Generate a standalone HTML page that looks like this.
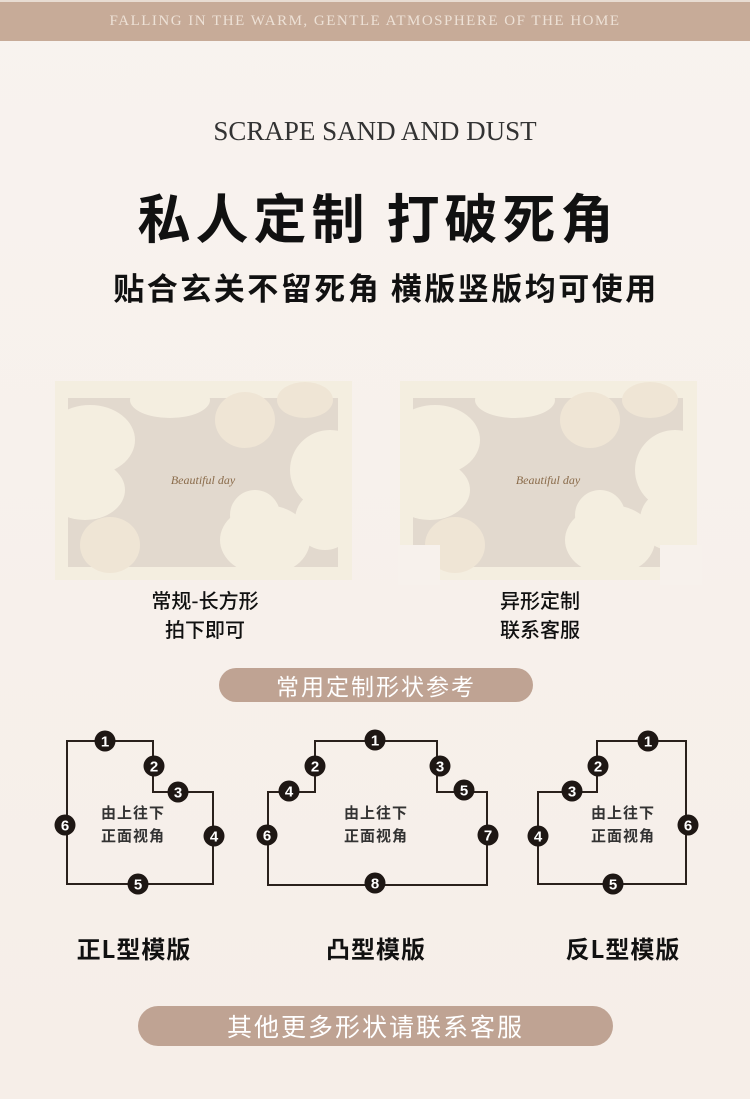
<!DOCTYPE html>
<html><head><meta charset="utf-8"><style>
body{margin:0;width:750px;height:1099px;overflow:hidden;background:linear-gradient(#f8f3ef,#f6eee8);font-family:"Liberation Sans","Noto Sans CJK SC",sans-serif;position:relative}
.a{position:absolute;white-space:nowrap}
.c{transform:translateX(-50%)}
</style></head><body>
<div class="a" style="left:0;top:0;width:750px;height:41px;background:#c7ab98;border-top:2px solid #e8dcd2;box-sizing:border-box"></div>
<div class="a c" style="left:365px;top:13px;color:#ede1d6;font-size:15px;letter-spacing:1.5px;font-family:'Liberation Serif',serif">FALLING IN THE WARM, GENTLE ATMOSPHERE OF THE HOME</div>
<div class="a c" style="left:375px;top:116px;color:#333;font-size:27px;font-family:'Liberation Serif',serif;letter-spacing:0px">SCRAPE SAND AND DUST</div>
<div class="a c" style="left:378px;top:178px;color:#111;font-size:53px;font-weight:bold;letter-spacing:5px;font-family:'Noto Sans CJK SC',sans-serif">私人定制 打破死角</div>
<div class="a c" style="left:386px;top:264px;color:#111;font-size:31px;font-weight:bold;letter-spacing:2.5px;font-family:'Noto Sans CJK SC',sans-serif">贴合玄关不留死角 横版竖版均可使用</div>

<svg class="a" style="left:0;top:0" width="750" height="1099">
<defs>
<clipPath id="cp"><rect x="0" y="0" width="297" height="200"/></clipPath>
<g id="fl" clip-path="url(#cp)">
<rect x="13" y="18" width="270" height="169" fill="#e2d9ce"/>
<g fill="#f4eee0">
<ellipse cx="35" cy="60" rx="45" ry="35"/><ellipse cx="30" cy="110" rx="40" ry="30"/>
<ellipse cx="275" cy="90" rx="40" ry="40"/><ellipse cx="270" cy="140" rx="30" ry="30"/>
<ellipse cx="210" cy="160" rx="45" ry="35"/><ellipse cx="200" cy="135" rx="25" ry="25"/>
<ellipse cx="115" cy="20" rx="40" ry="18"/>
</g>
<g fill="#efe5d5"><ellipse cx="55" cy="165" rx="30" ry="28"/><ellipse cx="190" cy="40" rx="30" ry="28"/><ellipse cx="250" cy="20" rx="28" ry="18"/></g>
<text x="148" y="104" text-anchor="middle" font-family="Liberation Serif,serif" font-style="italic" font-size="12" fill="#8a6b4a">Beautiful day</text>
</g>
</defs>
<rect x="55" y="381" width="297" height="199" fill="#f4eee0"/>
<g transform="translate(55,380)"><use href="#fl"/></g>
<rect x="400" y="381" width="297" height="164" fill="#f4eee0"/>
<rect x="440" y="540" width="220" height="40" fill="#f4eee0"/>
<g transform="translate(400,380)"><use href="#fl"/></g>
<rect x="398" y="545" width="42" height="40" fill="#f7f1ec"/>
<rect x="660" y="545" width="42" height="40" fill="#f7f1ec"/>

<g fill="none" stroke="#2a211c" stroke-width="2">
<path d="M67 741H153V792H213V884H67Z"/>
<path d="M268 792H315V741H437V792H487V885H268Z"/>
<path d="M538 792H597V741H686V884H538Z"/>
</g>
<g font-family="Liberation Sans,sans-serif" font-weight="bold" font-size="15" text-anchor="middle">
<g fill="#1e1714">
<circle cx="105" cy="741" r="10.5"/><circle cx="154" cy="766" r="10.5"/><circle cx="178" cy="792" r="10.5"/><circle cx="214" cy="836" r="10.5"/><circle cx="138" cy="884" r="10.5"/><circle cx="65" cy="825" r="10.5"/>
<circle cx="375" cy="740" r="10.5"/><circle cx="315" cy="766" r="10.5"/><circle cx="440" cy="766" r="10.5"/><circle cx="289" cy="791" r="10.5"/><circle cx="464" cy="790" r="10.5"/><circle cx="267" cy="835" r="10.5"/><circle cx="488" cy="835" r="10.5"/><circle cx="375" cy="883" r="10.5"/>
<circle cx="648" cy="741" r="10.5"/><circle cx="598" cy="766" r="10.5"/><circle cx="572" cy="791" r="10.5"/><circle cx="538" cy="836" r="10.5"/><circle cx="613" cy="884" r="10.5"/><circle cx="688" cy="825" r="10.5"/>
</g>
<g fill="#fff">
<text x="105" y="746.5">1</text><text x="154" y="771.5">2</text><text x="178" y="797.5">3</text><text x="214" y="841.5">4</text><text x="138" y="889.5">5</text><text x="65" y="830.5">6</text>
<text x="375" y="745.5">1</text><text x="315" y="771.5">2</text><text x="440" y="771.5">3</text><text x="289" y="796.5">4</text><text x="464" y="795.5">5</text><text x="267" y="840.5">6</text><text x="488" y="840.5">7</text><text x="375" y="888.5">8</text>
<text x="648" y="746.5">1</text><text x="598" y="771.5">2</text><text x="572" y="796.5">3</text><text x="538" y="841.5">4</text><text x="613" y="889.5">5</text><text x="688" y="830.5">6</text>
</g>
</g>
<g font-family="Noto Sans CJK SC,sans-serif" font-weight="bold" font-size="15" fill="#333" text-anchor="middle" letter-spacing="1">
<text x="133" y="818">由上往下</text><text x="133" y="841">正面视角</text>
<text x="376" y="818">由上往下</text><text x="376" y="841">正面视角</text>
<text x="623" y="818">由上往下</text><text x="623" y="841">正面视角</text>
</g>
</svg>

<div class="a c" style="left:205px;top:585px;font-size:20px;font-weight:500;color:#111;text-align:center;line-height:29px;font-family:'Noto Sans CJK SC',sans-serif">常规-长方形<br>拍下即可</div>
<div class="a c" style="left:540px;top:585px;font-size:20px;font-weight:500;color:#111;text-align:center;line-height:29px;font-family:'Noto Sans CJK SC',sans-serif">异形定制<br>联系客服</div>

<div class="a" style="left:219px;top:668px;width:314px;height:34px;border-radius:17px;background:#bfa393;color:#fff;font-size:23px;text-align:center;line-height:34px;font-family:'Noto Sans CJK SC',sans-serif;letter-spacing:2px">常用定制形状参考</div>

<div class="a c" style="left:134px;top:930px;font-size:24px;font-weight:bold;color:#111;font-family:'Noto Sans CJK SC',sans-serif;letter-spacing:1px">正L型模版</div>
<div class="a c" style="left:376px;top:930px;font-size:24px;font-weight:bold;color:#111;font-family:'Noto Sans CJK SC',sans-serif;letter-spacing:1px">凸型模版</div>
<div class="a c" style="left:623px;top:930px;font-size:24px;font-weight:bold;color:#111;font-family:'Noto Sans CJK SC',sans-serif;letter-spacing:1px">反L型模版</div>

<div class="a" style="left:138px;top:1006px;width:475px;height:40px;border-radius:20px;background:#bfa393;color:#fff;font-size:25px;text-align:center;line-height:40px;font-family:'Noto Sans CJK SC',sans-serif;letter-spacing:2px">其他更多形状请联系客服</div>
</body></html>
